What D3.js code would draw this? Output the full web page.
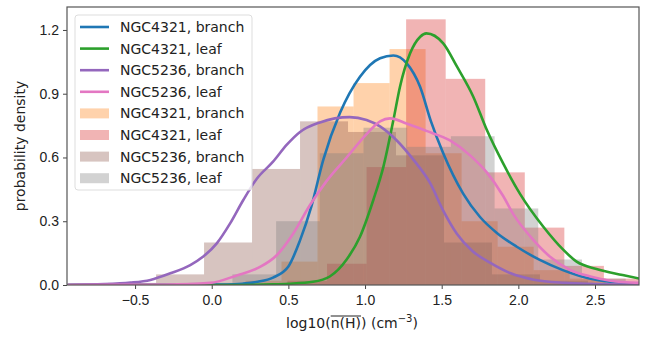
<!DOCTYPE html>
<html>
<head>
<meta charset="utf-8">
<script src="https://cdn.jsdelivr.net/npm/d3@7"></script>
<style>
	body { margin: 0; background: #fff; }
	svg { display: block; font-family: "DejaVu Sans", sans-serif; }
	.axis text { font-size: 14px; fill: #222; }
	.axis path, .axis line { stroke: #444; }
</style>
</head>
<body>
<svg></svg>
<script>
// histogram bin edges + densities
const orangeEdges = [0.22, 0.455, 0.69, 0.925, 1.16, 1.395, 1.63, 1.865, 2.10, 2.335, 2.57]
const orangeHeights = [0.02, 0.11, 0.84, 0.95, 1.11, 0.62, 0.30, 0.18, 0.07, 0.03]

const redEdges = [0.494, 0.752, 1.010, 1.268, 1.526, 1.784, 2.042, 2.300, 2.558, 2.816]
const redHeights = [0.02, 0.10, 0.555, 1.25, 0.97, 0.53, 0.27, 0.09, 0.03]

const brownEdges = [-0.676, -0.363, -0.05, 0.263, 0.576, 0.889, 1.202, 1.515, 1.828, 2.141, 2.454]
const brownHeights = [0.01, 0.05, 0.20, 0.546, 0.77, 0.72, 0.61, 0.20, 0.05, 0.02]

const grayEdges = [-0.15, 0.135, 0.42, 0.705, 0.99, 1.275, 1.56, 1.845, 2.13, 2.415, 2.70]
const grayHeights = [0.01, 0.05, 0.30, 0.62, 0.74, 0.65, 0.70, 0.36, 0.12, 0.03]

// kde curves [x, density]
const blueKde = [[-0.94,0],[0.1,0.002],[0.2,0.006],[0.3,0.015],[0.4,0.035],[0.5,0.087],[0.576,0.21],[0.65,0.37],
	[0.728,0.59],[0.837,0.81],[0.967,0.98],[1.098,1.067],[1.185,1.08],[1.272,1.043],[1.359,0.933],[1.43,0.77],
	[1.51,0.62],[1.64,0.43],[1.75,0.32],[1.86,0.245],[1.99,0.18],[2.14,0.118],[2.29,0.07],[2.45,0.033],[2.6,0.015],[2.79,0.006]]
const greenKde = [[-0.94,0],[0.2,0],[0.4,0.003],[0.5,0.006],[0.66,0.015],[0.77,0.04],[0.88,0.12],[0.967,0.227],
	[1.054,0.4],[1.12,0.557],[1.185,0.776],[1.228,0.933],[1.294,1.09],[1.36,1.168],[1.40,1.184],[1.51,1.137],
	[1.60,1.027],[1.706,0.886],[1.794,0.73],[1.90,0.573],[2.01,0.43],[2.163,0.274],[2.294,0.165],[2.38,0.11],
	[2.51,0.075],[2.68,0.047],[2.79,0.03]]
const purpleKde = [[-0.94,0.001],[-0.7,0.004],[-0.53,0.011],[-0.40,0.024],[-0.27,0.055],[-0.14,0.094],[-0.055,0.134],
	[0.033,0.196],[0.12,0.29],[0.206,0.40],[0.294,0.50],[0.40,0.58],[0.49,0.66],[0.576,0.72],[0.706,0.765],[0.90,0.79],
	[1.01,0.776],[1.10,0.745],[1.207,0.68],[1.315,0.59],[1.424,0.48],[1.51,0.35],[1.6,0.24],[1.7,0.16],[1.815,0.105],
	[1.95,0.055],[2.1,0.025],[2.3,0.01],[2.5,0.005],[2.79,0.002]]
const pinkKde = [[-0.94,0],[-0.3,0.002],[-0.01,0.01],[0.163,0.045],[0.315,0.085],[0.424,0.14],[0.53,0.24],[0.64,0.375],
	[0.75,0.49],[0.88,0.6],[1.01,0.71],[1.098,0.77],[1.163,0.784],[1.27,0.76],[1.40,0.725],[1.554,0.68],[1.685,0.61],
	[1.794,0.53],[1.90,0.42],[1.97,0.33],[2.076,0.23],[2.207,0.133],[2.34,0.07],[2.47,0.04],[2.6,0.02],[2.79,0.01]]

const xTicks = [-0.5, 0.0, 0.5, 1.0, 1.5, 2.0, 2.5]
const yTicks = [0.0, 0.3, 0.6, 0.9, 1.2]

const lineLabels = ['NGC4321, branch', 'NGC4321, leaf', 'NGC5236, branch', 'NGC5236, leaf']
const histLabels = ['NGC4321, branch', 'NGC4321, leaf', 'NGC5236, branch', 'NGC5236, leaf']

const lineColors = ['#1f77b4', '#2ca02c', '#9467bd', '#e377c2']
const histColors = ['#ff7f0e', '#d62728', '#8c564b', '#7f7f7f']
const HIST_ALPHA = 0.35

const margin = {top: 7, right: 9, bottom: 54, left: 67},
	width = 648 - margin.left - margin.right,
	height = 339 - margin.top - margin.bottom;

const x = d3.scaleLinear().domain([-0.944, 2.787]).range([0, width])
const y = d3.scaleLinear().domain([0, 1.308]).range([height, 0])

const svg = d3.select('svg')
	.attr('width', 648)
	.attr('height', 339)
	.append('g')
	.attr('transform', `translate(${margin.left},${margin.top})`)

svg.append('clipPath').attr('id', 'clip')
	.append('rect').attr('width', width).attr('height', height)

const plot = svg.append('g').attr('clip-path', 'url(#clip)')

// histograms
const hists = [
	[orangeEdges, orangeHeights],
	[redEdges, redHeights],
	[brownEdges, brownHeights],
	[grayEdges, grayHeights],
]
hists.forEach(([edges, heights], i) => {
	const bins = heights.map((h, j) => ({x0: edges[j], x1: edges[j + 1], h}))
	plot.append('g')
		.selectAll('rect')
		.data(bins).enter()
		.append('rect')
		.attr('x', d => x(d.x0))
		.attr('width', d => x(d.x1) - x(d.x0))
		.attr('y', d => y(d.h))
		.attr('height', d => y(0) - y(d.h))
		.attr('fill', histColors[i])
		.attr('fill-opacity', HIST_ALPHA)
})

// kde lines
const line = d3.line()
	.curve(d3.curveMonotoneX)
	.x(d => x(d[0]))
	.y(d => y(d[1]))

;[blueKde, greenKde, purpleKde, pinkKde].forEach((kde, i) => {
	plot.append('path')
		.datum(kde)
		.attr('d', line)
		.attr('fill', 'none')
		.attr('stroke', lineColors[i])
		.attr('stroke-width', 2.6)
})

// axes
svg.append('g')
	.attr('class', 'axis')
	.attr('transform', `translate(0,${height})`)
	.call(d3.axisBottom(x).tickValues(xTicks).tickSize(4).tickPadding(6)
		.tickFormat(d => d3.format('.1f')(d).replace('-', '\u2212')))
	.call(g => g.select('.domain').remove())

svg.append('g')
	.attr('class', 'axis')
	.call(d3.axisLeft(y).tickValues(yTicks).tickSize(4).tickPadding(4).tickFormat(d3.format('.1f')))
	.call(g => g.select('.domain').remove())

// frame
svg.append('rect')
	.attr('width', width)
	.attr('height', height)
	.attr('fill', 'none')
	.attr('stroke', '#555')
	.attr('stroke-width', 1.2)

// axis labels
svg.append('text')
	.attr('transform', `translate(${-42},${height / 2}) rotate(-90)`)
	.attr('text-anchor', 'middle')
	.attr('font-size', 14)
	.attr('fill', '#222')
	.text('probability density')

const xl = svg.append('text')
	.attr('x', 352 - margin.left)
	.attr('y', 328 - margin.top)
	.attr('text-anchor', 'middle')
	.attr('font-size', 14)
	.attr('fill', '#222')
xl.append('tspan').text('log10(n(H)) (cm')
xl.append('tspan').attr('font-size', 10).attr('dy', -6).text('\u22123')
xl.append('tspan').attr('dy', 6).text(')')

// overline above n(H)
{
	const node = xl.node()
	const start = node.getStartPositionOfChar(6)
	const end = node.getEndPositionOfChar(9)
	svg.append('line')
		.attr('x1', start.x).attr('x2', end.x)
		.attr('y1', start.y - 12).attr('y2', start.y - 12)
		.attr('stroke', '#222')
		.attr('stroke-width', 1)
}

// legend
const lg = svg.append('g').attr('transform', 'translate(8,8)')
lg.append('rect')
	.attr('width', 177)
	.attr('height', 175)
	.attr('rx', 3)
	.attr('fill', '#fff')
	.attr('fill-opacity', 0.8)
	.attr('stroke', '#ddd')

const rowH = 21.6
lineLabels.forEach((t, i) => {
	const yy = 12 + rowH * i
	lg.append('line')
		.attr('x1', 5).attr('x2', 34)
		.attr('y1', yy).attr('y2', yy)
		.attr('stroke', lineColors[i])
		.attr('stroke-width', 2.6)
	lg.append('text')
		.attr('x', 45).attr('y', yy + 5)
		.attr('font-size', 14).attr('fill', '#222')
		.text(t)
})
histLabels.forEach((t, i) => {
	const yy = 12 + rowH * (i + 4)
	lg.append('rect')
		.attr('x', 5).attr('y', yy - 5)
		.attr('width', 29).attr('height', 10)
		.attr('fill', histColors[i])
		.attr('fill-opacity', HIST_ALPHA)
	lg.append('text')
		.attr('x', 45).attr('y', yy + 5)
		.attr('font-size', 14).attr('fill', '#222')
		.text(t)
})
</script>
</body>
</html>
